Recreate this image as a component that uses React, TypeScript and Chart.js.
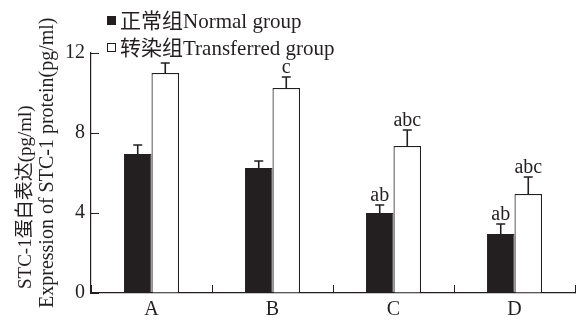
import React, { useEffect, useRef } from "react";
import { Chart, registerables } from "chart.js";

Chart.register(...registerables);

const categories = ["A", "B", "C", "D"];
const normalValues = [6.95, 6.25, 4.0, 2.95];
const normalErrors = [0.45, 0.35, 0.4, 0.5];
const normalMarks = ["", "", "ab", "ab"];
const transValues = [11.0, 10.25, 7.35, 4.95];
const transErrors = [0.5, 0.55, 0.8, 0.85];
const transMarks = ["", "c", "abc", "abc"];
const yTicks = [0, 4, 8, 12];
const legendLabels = ["正常组Normal group", "转染组Transferred group"];
const yTitle = ["STC-1蛋白表达(pg/ml)", "Expression of STC-1 protein(pg/ml)"];

const FONT = "'Liberation Serif', 'Times New Roman', 'Noto Sans CJK SC', serif";

const errorBarPlugin = {
  id: "errorBars",
  afterDatasetsDraw(chart: any) {
    const ctx = chart.ctx;
    const yScale = chart.scales.y;
    chart.data.datasets.forEach((ds: any, di: number) => {
      const meta = chart.getDatasetMeta(di);
      meta.data.forEach((bar: any, i: number) => {
        const v = ds.data[i];
        const e = ds.errors[i];
        const yTop = yScale.getPixelForValue(v + e);
        const x = bar.x;
        ctx.save();
        ctx.strokeStyle = "#231f20";
        ctx.lineWidth = 1.6;
        ctx.beginPath();
        ctx.moveTo(x, bar.y);
        ctx.lineTo(x, yTop);
        ctx.moveTo(x - 4.5, yTop);
        ctx.lineTo(x + 4.5, yTop);
        ctx.stroke();
        const mark = ds.marks[i];
        if (mark) {
          ctx.fillStyle = "#231f20";
          ctx.font = `20px ${FONT}`;
          ctx.textAlign = "center";
          ctx.textBaseline = "alphabetic";
          ctx.fillText(mark, x, yTop - 4);
        }
        ctx.restore();
      });
    });
  },
};

const legendPlugin = {
  id: "customLegend",
  afterDraw(chart: any) {
    const ctx = chart.ctx;
    const left = chart.chartArea.left + 16;
    const rows = [21, 48];
    ctx.save();
    chart.data.datasets.forEach((ds: any, di: number) => {
      const y = rows[di];
      ctx.fillStyle = ds.backgroundColor;
      ctx.strokeStyle = "#231f20";
      ctx.lineWidth = 1;
      ctx.fillRect(left + 0.5, y - 4.5, 8, 8);
      ctx.strokeRect(left + 0.5, y - 4.5, 8, 8);
      ctx.fillStyle = "#231f20";
      ctx.font = `21px ${FONT}`;
      ctx.textAlign = "left";
      ctx.textBaseline = "middle";
      ctx.fillText(legendLabels[di], left + 13, y + 1);
    });
    ctx.restore();
  },
};

const yTitlePlugin = {
  id: "yTitle",
  afterDraw(chart: any) {
    const ctx = chart.ctx;
    const bottom = chart.chartArea.bottom;
    const specs = [
      { x: 26, start: bottom - 4, size: 19 },
      { x: 48, start: bottom + 15, size: 20 },
    ];
    ctx.save();
    ctx.fillStyle = "#231f20";
    specs.forEach((s, i) => {
      ctx.save();
      ctx.translate(s.x, s.start);
      ctx.rotate(-Math.PI / 2);
      ctx.font = `${s.size}px ${FONT}`;
      ctx.textAlign = "left";
      ctx.textBaseline = "middle";
      ctx.fillText(yTitle[i], 0, 0);
      ctx.restore();
    });
    ctx.restore();
  },
};

export default function App() {
  const ref = useRef<HTMLCanvasElement>(null);
  useEffect(() => {
    if (!ref.current) return;
    const chart = new Chart(ref.current, {
      type: "bar",
      data: {
        labels: categories,
        datasets: [
          {
            label: legendLabels[0],
            data: normalValues,
            errors: normalErrors,
            marks: normalMarks,
            backgroundColor: "#231f20",
            borderColor: "#231f20",
            borderWidth: 1,
            categoryPercentage: 0.455,
            barPercentage: 1,
          } as any,
          {
            label: legendLabels[1],
            data: transValues,
            errors: transErrors,
            marks: transMarks,
            backgroundColor: "#ffffff",
            borderColor: "#231f20",
            borderWidth: 1.2,
            categoryPercentage: 0.455,
            barPercentage: 1,
          } as any,
        ],
      },
      options: {
        responsive: false,
        animation: false,
        devicePixelRatio: 1,
        layout: { padding: { top: 53, right: 5, left: 0, bottom: 0 } },
        plugins: {
          legend: { display: false },
          tooltip: { enabled: false },
        },
        scales: {
          x: {
            offset: true,
            grid: {
              display: true,
              drawOnChartArea: false,
              drawTicks: true,
              tickLength: -8,
              color: "#231f20",
              lineWidth: 1,
            },
            border: { display: true, color: "#231f20", width: 1.2 },
            ticks: {
              color: "#231f20",
              font: { family: FONT, size: 20 },
              padding: 13,
            },
            afterFit(scale: any) {
              scale.height = 29;
            },
          },
          y: {
            min: 0,
            max: 12,
            afterBuildTicks(scale: any) {
              scale.ticks = yTicks.map((v) => ({ value: v }));
            },
            grid: {
              display: true,
              drawOnChartArea: false,
              drawTicks: true,
              tickLength: -8,
              color: "#231f20",
              lineWidth: 1,
            },
            border: { display: true, color: "#231f20", width: 1.2 },
            ticks: {
              color: "#231f20",
              font: { family: FONT, size: 20 },
              padding: 14,
            },
            title: { display: false },
            afterFit(scale: any) {
              scale.width = 91;
            },
          },
        },
      } as any,
      plugins: [errorBarPlugin, legendPlugin, yTitlePlugin],
    });
    return () => chart.destroy();
  }, []);
  return (
    <div style={{ position: "fixed", left: 0, top: 0, width: 580, height: 322, background: "#fff" }}>
      <canvas ref={ref} width={580} height={322} />
    </div>
  );
}
